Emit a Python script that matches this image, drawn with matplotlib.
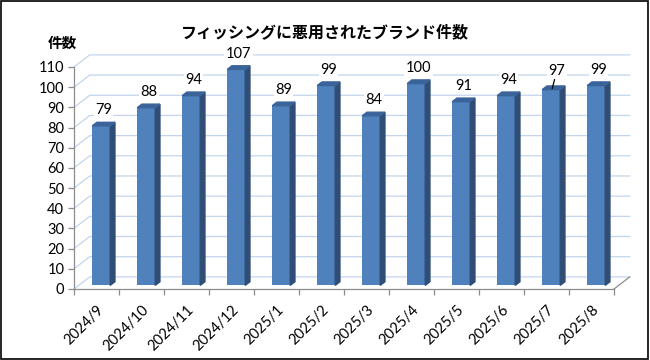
import matplotlib.pyplot as plt
from matplotlib.patches import Polygon, Rectangle

# monthly count of brands abused in phishing
months = ['2024/9', '2024/10', '2024/11', '2024/12', '2025/1', '2025/2',
          '2025/3', '2025/4', '2025/5', '2025/6', '2025/7', '2025/8']
counts = [79, 88, 94, 107, 89, 99, 84, 100, 91, 94, 97, 99]
yticks = list(range(0, 111, 10))
title = 'フィッシングに悪用されたブランド件数'
ylabel = '件数'

plt.rcParams['font.family'] = ['Lato', 'Noto Sans CJK JP', 'DejaVu Sans']

# fake 3d box: depth offset in (category, value) units
DX, DY = 0.35, 6.0
F0, F1 = 0.3, 0.6   # bars sit between these depth fractions
BW = 0.4
n = len(months)

front_c = '#4F81BD'
side_c = '#2F4D75'
top_c = '#3A639A'
grid_c = '#C3D5EC'
axis_c = '#8C8C8C'
fs = 10.5

fig = plt.figure(figsize=(6.5, 3.6), dpi=100)
ax = fig.add_axes([74 / 650, 71 / 360, 540 / 650, 222 / 360])
ax.set_xlim(0, n)
ax.set_ylim(0, 110)

# back wall gridlines + side wall diagonals
for v in yticks:
    ax.plot([0, DX, n + DX], [v, v + DY, v + DY], color=grid_c, lw=0.9,
            clip_on=False, zorder=0)
# floor edge on the right
ax.plot([n, n + DX], [0, DY], color=axis_c, lw=0.9, clip_on=False, zorder=0)

lbl_box = dict(facecolor='white', edgecolor='none', pad=1.0)
for i, v in enumerate(counts):
    x0 = i + 0.5 - BW / 2 + F0 * DX
    y0 = F0 * DY
    x1 = x0 + BW
    ddx = (F1 - F0) * DX
    ddy = (F1 - F0) * DY
    ax.bar(x0, v, width=BW, bottom=y0, align='edge', color=front_c,
           edgecolor='none', clip_on=False, zorder=2)
    ax.add_patch(Polygon([(x1, y0), (x1 + ddx, y0 + ddy), (x1 + ddx, v + y0 + ddy),
                          (x1, v + y0)], closed=True, color=side_c,
                         clip_on=False, zorder=2))
    ax.add_patch(Polygon([(x0, v + y0), (x1, v + y0), (x1 + ddx, v + y0 + ddy),
                          (x0 + ddx, v + y0 + ddy)], closed=True, color=top_c,
                         clip_on=False, zorder=2))
    lx = i + 0.5 + (F0 + F1) / 2 * DX
    ly = v + F1 * DY + 2.5
    if months[i] == '2025/7':
        # this label was dragged up a little, with a leader line
        ax.annotate(str(v), xy=(lx - 0.03, v + y0 + 0.5), xytext=(lx + 0.07, ly + 1.5),
                    ha='center', va='bottom', fontsize=fs, bbox=lbl_box,
                    arrowprops=dict(arrowstyle='-', color='black', lw=0.9,
                                    shrinkA=0, shrinkB=0),
                    annotation_clip=False, zorder=3)
    else:
        ax.text(lx, ly, str(v), ha='center', va='bottom', fontsize=fs,
                bbox=lbl_box, zorder=3)

for s in ['top', 'right']:
    ax.spines[s].set_visible(False)
for s in ['left', 'bottom']:
    ax.spines[s].set_color(axis_c)
    ax.spines[s].set_linewidth(0.9)

ax.set_yticks(yticks)
ax.tick_params(axis='y', colors=axis_c, labelcolor='black', labelsize=fs,
               length=4, width=0.9, pad=3)
ax.set_xticks(range(n + 1))
ax.set_xticklabels([])
ax.tick_params(axis='x', which='major', colors=axis_c, length=4, width=0.9)
ax.set_xticks([i + 0.5 for i in range(n)], minor=True)
ax.set_xticklabels(months, minor=True, rotation=45, ha='right', va='top',
                   rotation_mode='anchor', fontsize=fs)
ax.tick_params(axis='x', which='minor', length=0, pad=10)

fig.text(0.5, 0.91, title, ha='center', va='center', fontsize=11.5,
         fontweight='bold', family=['Noto Sans CJK JP', 'DejaVu Sans'])
fig.text(62 / 650, 1 - 43 / 360, ylabel, ha='center', va='center', fontsize=10.5,
         fontweight='bold', family=['Noto Sans CJK JP', 'DejaVu Sans'])

fig.patches.append(Rectangle((0.002, 0.003), 0.995, 0.993, transform=fig.transFigure,
                             fill=False, edgecolor='black', lw=1.2))

fig.savefig('out.png', dpi=100)
